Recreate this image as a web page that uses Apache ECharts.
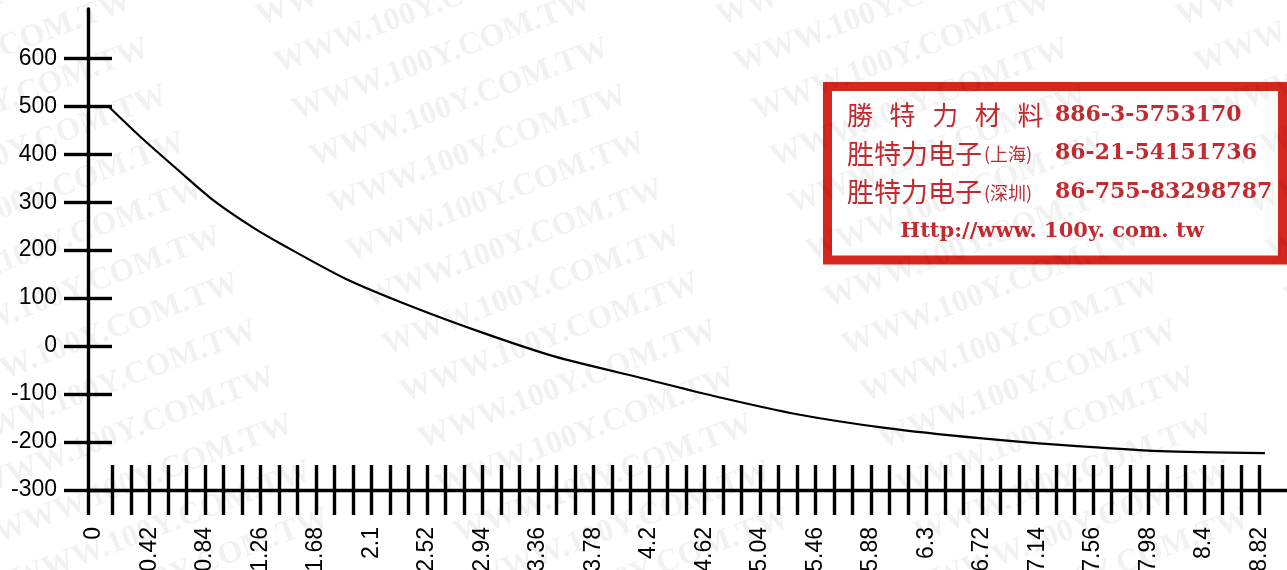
<!DOCTYPE html>
<html>
<head>
<meta charset="utf-8">
<style>
  html, body { margin: 0; padding: 0; background: #fff; }
  #chart { width: 1287px; height: 570px; }
</style>
<script src="https://cdn.jsdelivr.net/npm/echarts@6/dist/echarts.min.js"></script>
</head>
<body>
<div id="chart"></div>
<script>
// Decay curve: time vs. value
const timeVals = [0.11, 0.35, 0.65, 0.90, 1.20, 1.41, 1.90, 2.41, 2.95, 3.49, 4.12, 4.69, 5.32, 6.00, 6.70, 7.31, 8.07, 8.86];
const curveVals = [500, 437, 364, 305, 248, 214, 141, 82, 27, -22, -65, -104, -142, -171, -192, -206, -219, -223];

// Axis tick labels
const xLabelVals = [0, 0.42, 0.84, 1.26, 1.68, 2.1, 2.52, 2.94, 3.36, 3.78, 4.2, 4.62, 5.04, 5.46, 5.88, 6.3, 6.72, 7.14, 7.56, 7.98, 8.4, 8.82];
const xLabelText = ['0', '0.42', '0.84', '1.26', '1.68', '2.1', '2.52', '2.94', '3.36', '3.78', '4.2', '4.62', '5.04', '5.46', '5.88', '6.3', '6.72', '7.14', '7.56', '7.98', '8.4', '8.82'];
const yTickVals = [-300, -200, -100, 0, 100, 200, 300, 400, 500, 600];

// Minor x ticks every 0.14 up to the last label
const X_STEP = 0.14;
const xTickVals = [];
for (let k = 1; k * X_STEP <= 8.82 + 1e-9; k++) xTickVals.push(+(k * X_STEP).toFixed(2));

// Contact box text
const boxLines = [
  { cn: ['勝', '特', '力', '材', '料'], sub: '', tel: '886-3-5753170' },
  { cn: ['胜特力电子'], sub: '(上海)', tel: '86-21-54151736' },
  { cn: ['胜特力电子'], sub: '(深圳)', tel: '86-755-83298787' }
];
const boxUrl = 'Http://www. 100y. com. tw';
const WATERMARK = 'WWW.100Y.COM.TW';

const X_MIN = -0.044, X_MAX = 9.027;
const Y_MIN = -300, Y_MAX = 702.7;

const AXIS_COLOR = '#000';
const AXIS_W = 3.4;
const RED = '#d7261e';
const TEXT_RED = '#c42a30';
const LABEL_FONT = { fontSize: 23, color: '#000', fontFamily: '"Liberation Sans", Arial, sans-serif' };

const chart = echarts.init(document.getElementById('chart'), null, { renderer: 'canvas' });

const xLabelFmt = v => {
  for (let i = 0; i < xLabelVals.length; i++) if (Math.abs(xLabelVals[i] - v) < 1e-6) return xLabelText[i];
  return '';
};

// Graphic overlay: contact box and repeated watermark text
const graphics = [];
graphics.push({
  type: 'rect', z: 50, silent: true,
  shape: { x: 827.5, y: 86.5, width: 455, height: 173.5 },
  style: { fill: '#fff', stroke: RED, lineWidth: 9 }
});
const lineY = [115, 153.5, 192];
boxLines.forEach((ln, i) => {
  if (ln.cn.length > 1) {
    ln.cn.forEach((ch, j) => graphics.push({
      type: 'text', z: 51, silent: true, x: 847 + j * 42.6, y: lineY[i],
      style: { text: ch, fill: TEXT_RED, font: '26px "Noto Sans CJK TC"', verticalAlign: 'middle', align: 'left' }
    }));
  } else {
    graphics.push({
      type: 'text', z: 51, silent: true, x: 847, y: lineY[i],
      style: { text: ln.cn[0], fill: TEXT_RED, font: '27px "Noto Sans CJK SC"', verticalAlign: 'middle', align: 'left' }
    });
    graphics.push({
      type: 'text', z: 51, silent: true, x: 984, y: lineY[i] + 1,
      style: { text: ln.sub, fill: TEXT_RED, font: '18px "Noto Sans CJK SC"', verticalAlign: 'middle', align: 'left' }
    });
  }
  graphics.push({
    type: 'text', z: 51, silent: true, x: 1055, y: lineY[i],
    style: { text: ln.tel, fill: TEXT_RED, font: 'bold 22px "DejaVu Serif"', verticalAlign: 'middle', align: 'left' }
  });
});
graphics.push({
  type: 'text', z: 51, silent: true, x: 1052, y: 231.5,
  style: { text: boxUrl, fill: TEXT_RED, font: 'bold 21px "DejaVu Serif"', verticalAlign: 'middle', align: 'center' }
});
for (let c = -1; c < 3; c++) {
  for (let r = -1; r < 13; r++) {
    graphics.push({
      type: 'text', z: 100, silent: true,
      x: 270 + c * 460 + r * 18, y: 50 + r * 47, rotation: 0.36,
      style: { text: WATERMARK, fill: '#000', opacity: 0.055, font: 'bold 32px "Liberation Serif"', verticalAlign: 'alphabetic', align: 'left' }
    });
  }
}

const option = {
  backgroundColor: '#fff',
  animation: false,
  grid: { left: 88, right: 0, top: 9, bottom: 80, outerBoundsMode: 'none', containLabel: false },
  xAxis: [
    {
      type: 'value', min: X_MIN, max: X_MAX, position: 'bottom',
      axisLine: { show: true, onZero: false, lineStyle: { color: AXIS_COLOR, width: AXIS_W } },
      axisTick: { show: true, length: 25, inside: false, customValues: [X_MIN].concat(xTickVals), lineStyle: { color: AXIS_COLOR, width: AXIS_W } },
      axisLabel: Object.assign({ show: true, rotate: 90, margin: 37, customValues: xLabelVals, formatter: xLabelFmt, hideOverlap: false }, LABEL_FONT),
      splitLine: { show: false }
    },
    {
      type: 'value', min: X_MIN, max: X_MAX, position: 'bottom', offset: 0,
      axisLine: { show: false, onZero: false },
      axisTick: { show: true, length: 25, inside: true, customValues: xTickVals, lineStyle: { color: AXIS_COLOR, width: AXIS_W } },
      axisLabel: { show: false },
      splitLine: { show: false }
    }
  ],
  yAxis: [
    {
      type: 'value', min: Y_MIN, max: Y_MAX, position: 'left',
      axisLine: { show: true, onZero: false, lineStyle: { color: AXIS_COLOR, width: AXIS_W } },
      axisTick: { show: true, length: 24, inside: false, customValues: yTickVals, lineStyle: { color: AXIS_COLOR, width: AXIS_W } },
      axisLabel: Object.assign({ show: true, margin: 31, customValues: yTickVals, hideOverlap: false }, LABEL_FONT),
      splitLine: { show: false }
    },
    {
      type: 'value', min: Y_MIN, max: Y_MAX, position: 'left', offset: 0,
      axisLine: { show: false, onZero: false },
      axisTick: { show: true, length: 24, inside: true, customValues: yTickVals, lineStyle: { color: AXIS_COLOR, width: AXIS_W } },
      axisLabel: { show: false },
      splitLine: { show: false }
    }
  ],
  series: [
    {
      type: 'line',
      xAxisIndex: 0, yAxisIndex: 0,
      data: timeVals.map((t, i) => [t, curveVals[i]]),
      showSymbol: false,
      smooth: 0.25,
      lineStyle: { color: '#000', width: 2.2 },
      z: 3
    }
  ],
  graphic: { elements: graphics }
};

chart.setOption(option);
</script>
</body>
</html>
